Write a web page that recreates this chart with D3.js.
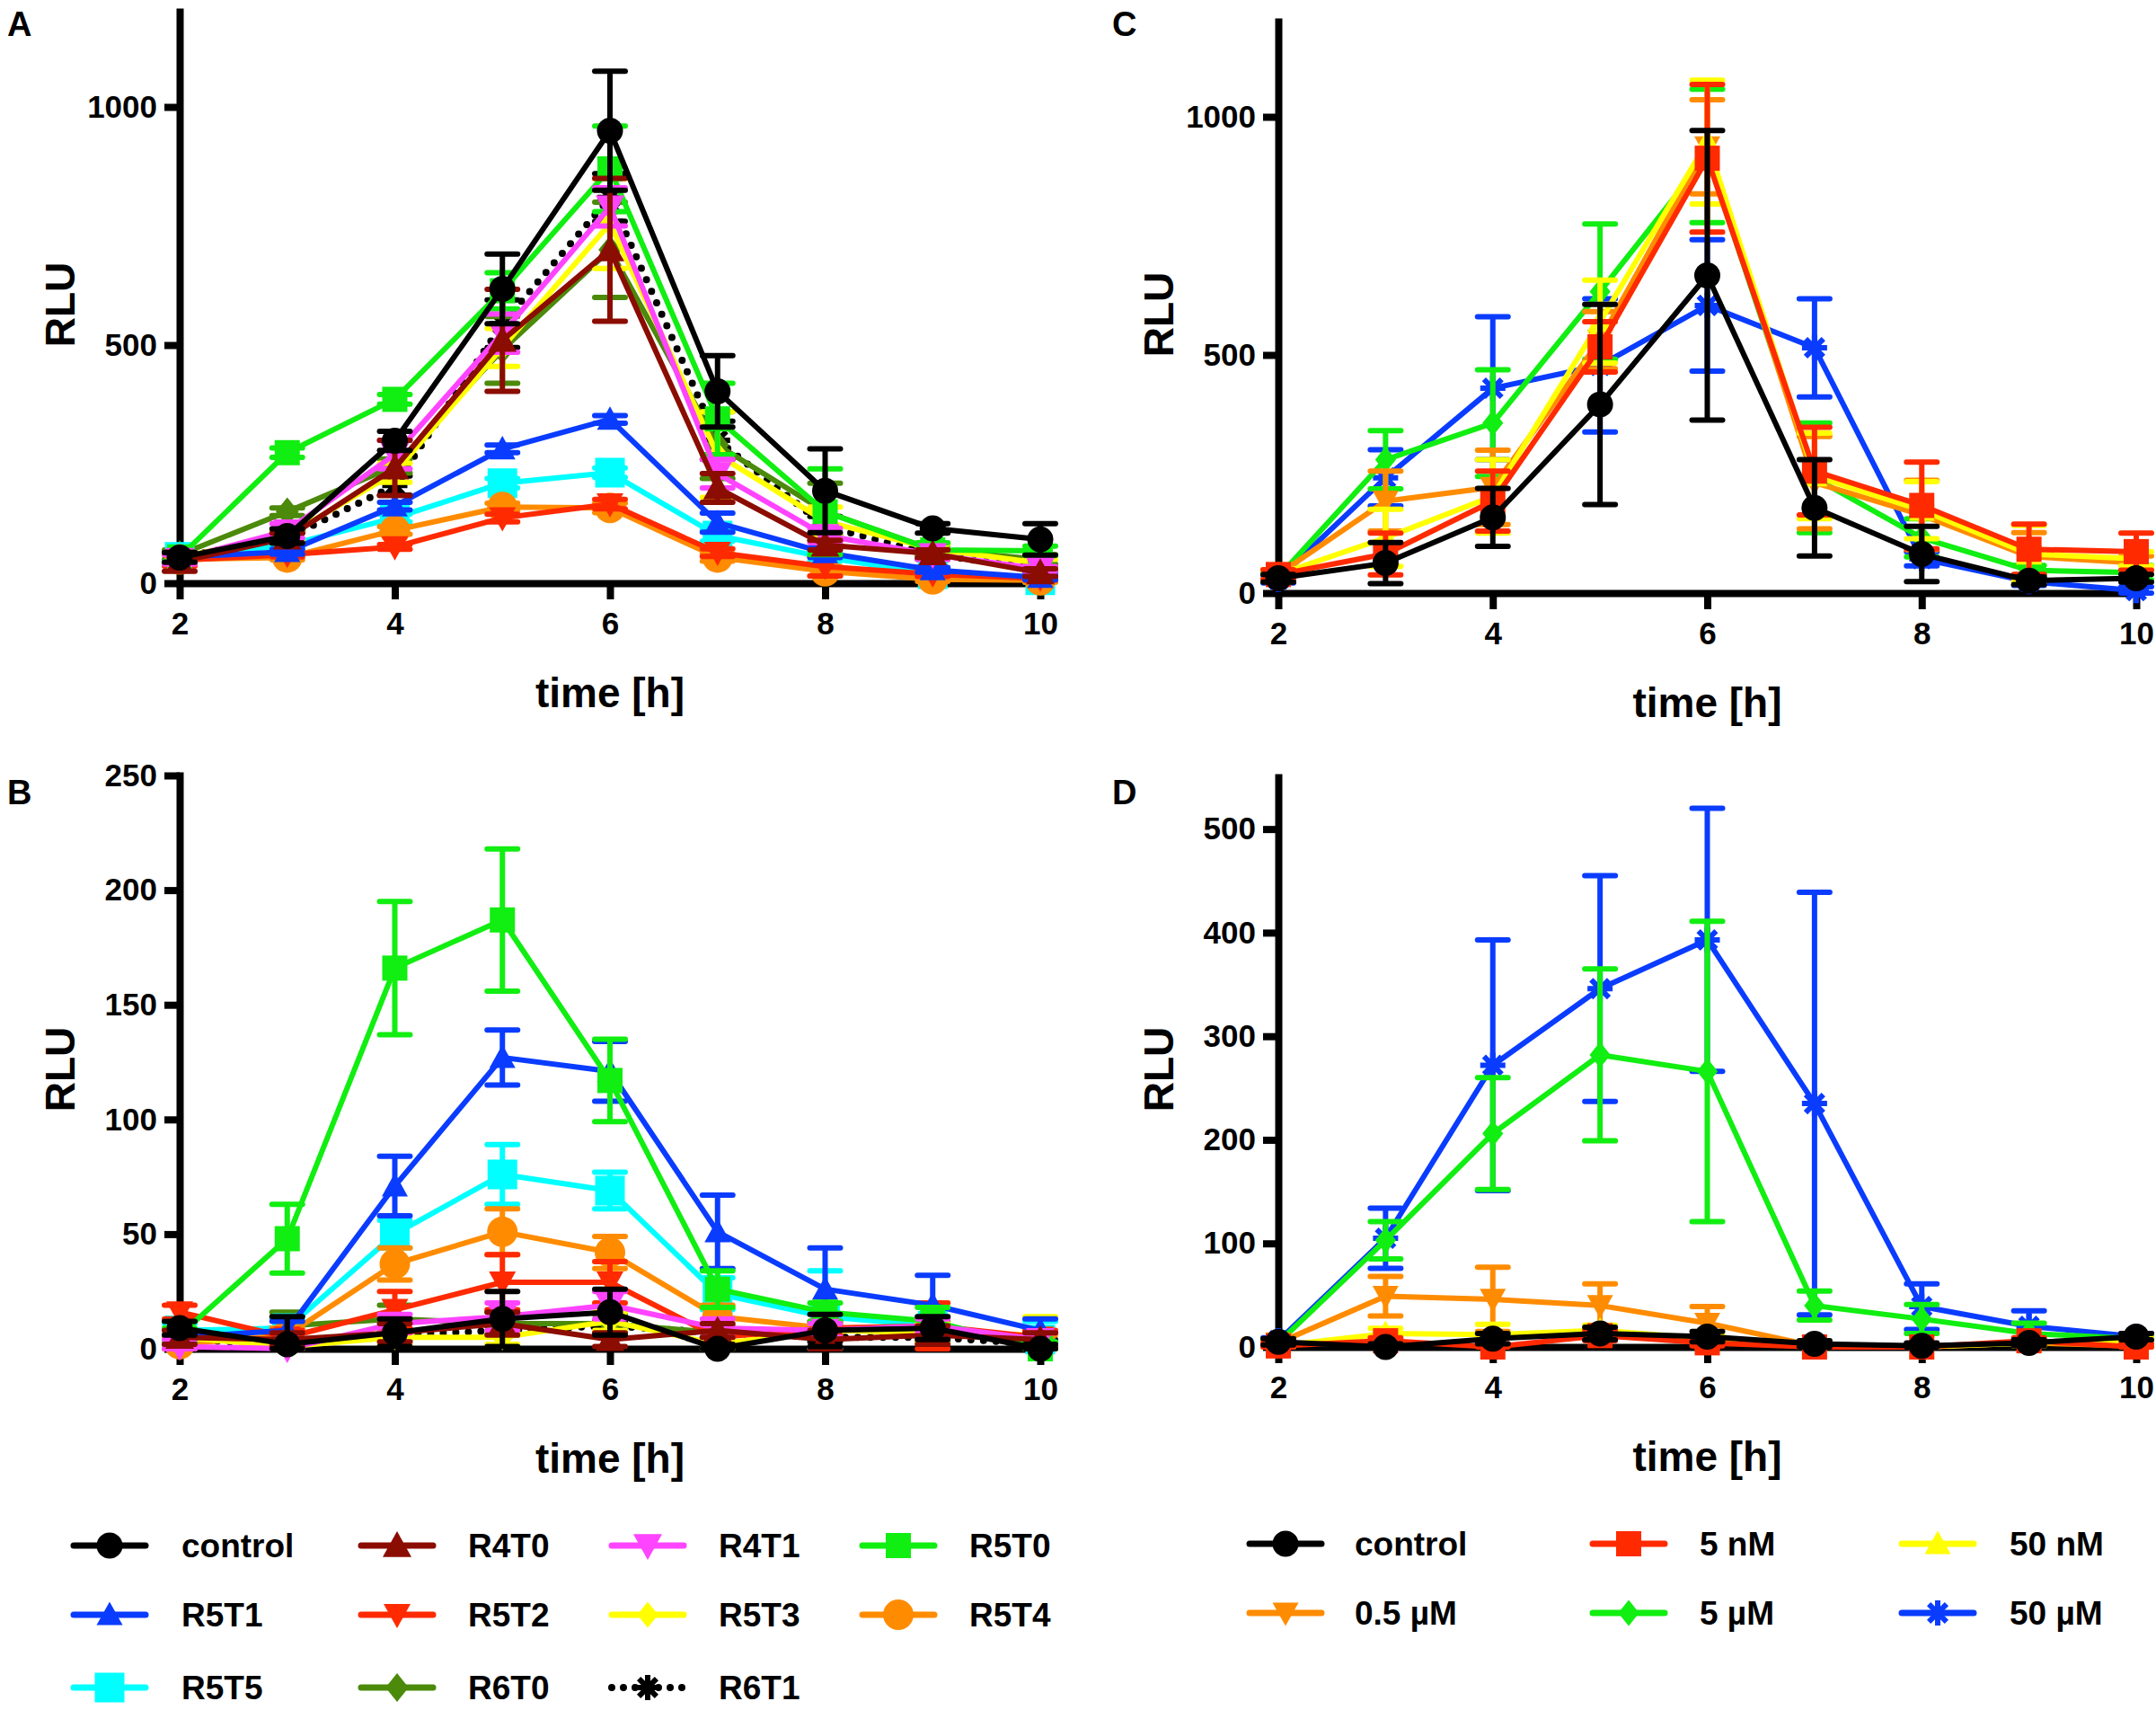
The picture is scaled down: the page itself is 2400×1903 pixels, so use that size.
<!DOCTYPE html>
<html>
<head>
<meta charset="utf-8">
<script src="https://cdnjs.cloudflare.com/ajax/libs/d3/7.8.5/d3.min.js"></script>
<style>
  body { margin: 0; background: #fff; }
  text { font-family: "Liberation Sans", Arial, sans-serif; font-weight: bold; fill: #000; }
</style>
</head>
<body>
<div id="figura"></div>
<script>
// tiempos y ticks
var horas = [2, 3, 4, 5, 6, 7, 8, 9, 10];
var ticksX = [2, 4, 6, 8, 10];
var ticksYA = [0, 500, 1000];
var ticksYB = [0, 50, 100, 150, 200, 250];
var ticksYC = [0, 500, 1000];
var ticksYD = [0, 100, 200, 300, 400, 500];

// series de A y B
var nombresAB = ["control", "R4T0", "R4T1", "R5T0", "R5T1", "R5T2", "R5T3", "R5T4", "R5T5", "R6T0", "R6T1"];
var mediasA = [
  [54, 99, 299, 618, 950, 403, 194, 115, 92],
  [45, 95, 242, 510, 700, 200, 80, 62, 22],
  [50, 110, 270, 525, 790, 230, 100, 60, 30],
  [55, 274, 386, 614, 870, 345, 150, 70, 68],
  [55, 66, 162, 282, 344, 127, 64, 28, 12],
  [48, 60, 76, 137, 166, 64, 35, 19, 10],
  [55, 100, 232, 495, 755, 270, 130, 72, 42],
  [50, 54, 111, 160, 158, 54, 25, 8, 6],
  [55, 80, 137, 210, 232, 100, 54, 19, 6],
  [60, 150, 246, 490, 700, 290, 150, 70, 50],
  [55, 95, 205, 545, 810, 300, 120, 60, 30]
];
var erroresA = [
  [10, 15, 20, 73, 125, 75, 88, 10, 33],
  [20, 10, 58, 107, 150, 30, 10, 8, 8],
  [10, 15, 30, 40, 40, 30, 15, 10, 5],
  [10, 10, 10, 38, 90, 75, 90, 15, 10],
  [10, 5, 8, 8, 8, 20, 10, 5, 5],
  [12, 5, 5, 8, 10, 8, 20, 5, 4],
  [10, 10, 20, 40, 94, 90, 30, 10, 8],
  [10, 5, 8, 8, 10, 8, 10, 4, 4],
  [10, 5, 8, 10, 10, 12, 8, 4, 4],
  [10, 8, 15, 70, 100, 70, 60, 10, 10],
  [10, 10, 20, 50, 50, 40, 20, 10, 6]
];
var mediasB = [
  [9, 2, 7, 13, 16, 0, 8, 9, 0],
  [5, 4, 7, 11, 4, 8, 4, 6, 4],
  [1, 0, 11, 14, 19, 9, 8, 10, 4],
  [6, 48, 166, 187, 117, 26, 16, 12, 0],
  [5, 8, 71, 127, 121, 51, 26, 19, 8],
  [16, 5, 17, 29, 29, 5, 9, 10, 5],
  [5, 1, 5, 5, 12, 2, 8, 7, 6],
  [2, 6, 37, 51, 42, 14, 9, 8, 3],
  [8, 9, 50, 76, 69, 24, 14, 10, 4],
  [3, 10, 13, 11, 11, 7, 8, 9, 4],
  [4, 2, 6, 8, 10, 7, 5, 5, 2]
];
var erroresB = [
  [3, 12, 6, 12, 10, 2, 7, 5, 2],
  [3, 3, 4, 5, 3, 3, 4, 4, 3],
  [3, 2, 4, 6, 6, 4, 3, 3, 3],
  [3, 15, 29, 31, 18, 8, 4, 6, 3],
  [3, 4, 13, 12, 13, 16, 18, 13, 5],
  [3, 3, 8, 12, 9, 3, 3, 10, 3],
  [3, 2, 3, 3, 4, 2, 3, 4, 8],
  [3, 3, 7, 10, 7, 5, 3, 3, 3],
  [3, 4, 6, 13, 8, 7, 20, 4, 8],
  [3, 6, 6, 5, 4, 3, 3, 3, 3],
  [2, 2, 2, 2, 2, 2, 2, 2, 2]
];

// series de C y D
var nombresCD = ["control", "5 nM", "50 nM", "0.5 µM", "5 µM", "50 µM"];
var mediasC = [
  [31, 63, 159, 396, 667, 179, 82, 26, 31],
  [39, 82, 193, 517, 913, 256, 184, 92, 87],
  [39, 116, 203, 570, 947, 246, 174, 82, 72],
  [39, 193, 222, 531, 937, 232, 164, 77, 63],
  [34, 280, 357, 633, 918, 242, 116, 48, 43],
  [29, 242, 430, 478, 604, 515, 72, 24, 5]
];
var erroresC = [
  [8, 43, 61, 210, 304, 101, 58, 8, 8],
  [10, 44, 63, 53, 155, 92, 91, 53, 39],
  [10, 60, 77, 87, 130, 90, 60, 60, 15],
  [10, 63, 78, 60, 99, 97, 73, 50, 15],
  [8, 61, 112, 142, 140, 115, 40, 10, 15],
  [8, 59, 150, 140, 138, 103, 15, 8, 8]
];
var mediasD = [
  [5, 0, 8, 13, 10, 3, 1, 4, 10],
  [1, 6, 0, 11, 4, 0, 0, 6, 0],
  [1, 13, 12, 16, 8, 0, 0, 4, 6],
  [4, 49, 46, 40, 23, 1, 0, 4, 1],
  [4, 103, 206, 282, 266, 40, 27, 13, 8],
  [6, 105, 272, 346, 393, 235, 39, 20, 10]
];
var erroresD = [
  [3, 3, 5, 6, 5, 3, 3, 3, 3],
  [3, 3, 3, 5, 3, 3, 3, 3, 3],
  [3, 5, 10, 5, 4, 3, 3, 3, 3],
  [3, 19, 31, 21, 16, 3, 3, 3, 3],
  [3, 18, 54, 83, 145, 14, 14, 10, 3],
  [3, 29, 121, 109, 127, 204, 22, 15, 3]
];

// estilos de cada serie (color, forma, tamaño en px)
var estilos = {
  "control": { color: "#000000", forma: "circulo", tam: 29 },
  "R4T0": { color: "#8b0c00", forma: "triArriba", tam: 32 },
  "R4T1": { color: "#ff44ff", forma: "triAbajo", tam: 32 },
  "R5T0": { color: "#11ee11", forma: "cuadrado", tam: 28 },
  "R5T1": { color: "#0a3cff", forma: "triArriba", tam: 29 },
  "R5T2": { color: "#ff2a00", forma: "triAbajo", tam: 30 },
  "R5T3": { color: "#ffff00", forma: "rombo", tam: 29 },
  "R5T4": { color: "#ff8c00", forma: "circulo", tam: 34 },
  "R5T5": { color: "#00ffff", forma: "cuadrado", tam: 33 },
  "R6T0": { color: "#4b8a0a", forma: "rombo", tam: 32 },
  "R6T1": { color: "#000000", forma: "estrella", tam: 28, punteado: true },
  "5 nM": { color: "#ff2a00", forma: "cuadrado", tam: 28 },
  "50 nM": { color: "#ffff00", forma: "triArriba", tam: 29 },
  "0.5 µM": { color: "#ff8c00", forma: "triAbajo", tam: 29 },
  "5 µM": { color: "#11ee11", forma: "rombo", tam: 29 },
  "50 µM": { color: "#0a3cff", forma: "estrella", tam: 28 }
};

function simbolo(forma, s) {
  var p = d3.path();
  var h = s / 2;
  if (forma == "circulo") { p.arc(0, 0, h, 0, 2 * Math.PI); p.closePath(); }
  else if (forma == "cuadrado") { p.rect(-h, -h, s, s); }
  else if (forma == "triArriba") { p.moveTo(0, -h); p.lineTo(h, h * 0.8); p.lineTo(-h, h * 0.8); p.closePath(); }
  else if (forma == "triAbajo") { p.moveTo(0, h); p.lineTo(h, -h * 0.8); p.lineTo(-h, -h * 0.8); p.closePath(); }
  else if (forma == "rombo") { p.moveTo(0, -h); p.lineTo(h * 0.8, 0); p.lineTo(0, h); p.lineTo(-h * 0.8, 0); p.closePath(); }
  else if (forma == "estrella") {
    for (var k = 0; k < 4; k++) {
      var a = k * Math.PI / 4;
      p.moveTo(-h * Math.cos(a), -h * Math.sin(a));
      p.lineTo(h * Math.cos(a), h * Math.sin(a));
    }
  }
  return p.toString();
}

function dibujaMarca(g, est) {
  var m = g.append("path").attr("d", simbolo(est.forma, est.tam));
  if (est.forma == "estrella") m.attr("fill", "none").attr("stroke", est.color).attr("stroke-width", 6);
  else m.attr("fill", est.color);
}

var svg = d3.select("#figura").append("svg")
  .attr("width", 2400).attr("height", 1903);
svg.append("rect").attr("width", 2400).attr("height", 1903).attr("fill", "#fff");

function panel(cfg) {
  var g = svg.append("g");
  var escalaX = d3.scaleLinear().domain([2, 10]).range(cfg.rx);
  var escalaY = d3.scaleLinear().domain([0, cfg.ymax]).range(cfg.ry);

  // ejes
  var ejeX = g.append("g").attr("transform", "translate(0," + cfg.ry[0] + ")")
    .call(d3.axisBottom(escalaX).tickValues(ticksX).tickSize(18).tickSizeOuter(0).tickPadding(14));
  var ejeY = g.append("g").attr("transform", "translate(" + cfg.rx[0] + ",0)")
    .call(d3.axisLeft(escalaY).tickValues(cfg.ticks).tickFormat(d3.format("d")).tickSize(17).tickSizeOuter(0).tickPadding(8));
  [ejeX, ejeY].forEach(function (e) {
    e.select(".domain").attr("stroke-width", 8).attr("stroke-linecap", "square");
    e.selectAll(".tick line").attr("stroke-width", 8);
    e.selectAll("text").style("font-size", "35px").attr("fill", "#000");
  });

  g.append("text").attr("x", (cfg.rx[0] + cfg.rx[1]) / 2).attr("y", cfg.ry[0] + 138)
    .attr("text-anchor", "middle").style("font-size", "46px").text("time [h]");
  g.append("text")
    .attr("transform", "translate(" + (cfg.rx[0] - 117) + "," + ((cfg.ry[0] + cfg.ry[1]) / 2 + 8) + ") rotate(-90)")
    .attr("text-anchor", "middle").style("font-size", "46px").text("RLU");
  g.append("text").attr("x", cfg.letraX).attr("y", cfg.letraY)
    .style("font-size", "38px").text(cfg.letra);

  // series, la primera queda encima
  var orden = d3.range(cfg.nombres.length).reverse();
  orden.forEach(function (i) {
    var est = estilos[cfg.nombres[i]];
    var puntos = horas.map(function (t, j) { return { t: t, v: cfg.medias[i][j], e: cfg.errores[i][j] }; });
    var gs = g.append("g");

    // barras de error
    puntos.forEach(function (d) {
      var yA = escalaY(d.v + d.e), yB = escalaY(Math.max(0, d.v - d.e)), x = escalaX(d.t);
      var eb = gs.append("g").attr("stroke", est.color).attr("stroke-width", 6);
      eb.append("line").attr("x1", x).attr("x2", x).attr("y1", yA).attr("y2", yB);
      eb.append("line").attr("x1", x - 17).attr("x2", x + 17).attr("y1", yA).attr("y2", yA).attr("stroke-linecap", "round");
      eb.append("line").attr("x1", x - 17).attr("x2", x + 17).attr("y1", yB).attr("y2", yB).attr("stroke-linecap", "round");
    });

    var linea = d3.line().x(function (d) { return escalaX(d.t); }).y(function (d) { return escalaY(d.v); });
    var camino = gs.append("path").datum(puntos).attr("d", linea)
      .attr("fill", "none").attr("stroke", est.color).attr("stroke-width", 6).attr("stroke-linejoin", "round");
    if (est.punteado) camino.attr("stroke-dasharray", "0,14").attr("stroke-linecap", "round").attr("stroke-width", 8);

    puntos.forEach(function (d) {
      var m = gs.append("g").attr("transform", "translate(" + escalaX(d.t) + "," + escalaY(d.v) + ")");
      dibujaMarca(m, est);
    });
  });
}

panel({ letra: "A", letraX: 8, letraY: 40, rx: [200, 1158], ry: [649, 13], ymax: 1200, ticks: ticksYA,
  nombres: nombresAB, medias: mediasA, errores: erroresA });
panel({ letra: "B", letraX: 8, letraY: 895, rx: [200, 1158], ry: [1501, 863], ymax: 250, ticks: ticksYB,
  nombres: nombresAB, medias: mediasB, errores: erroresB });
panel({ letra: "C", letraX: 1238, letraY: 40, rx: [1423, 2378], ry: [660, 24], ymax: 1200, ticks: ticksYC,
  nombres: nombresCD, medias: mediasC, errores: erroresC });
panel({ letra: "D", letraX: 1238, letraY: 895, rx: [1423, 2378], ry: [1499, 865], ymax: 550, ticks: ticksYD,
  nombres: nombresCD, medias: mediasD, errores: erroresD });

// leyendas
function leyenda(nombres, filas, colLinea, colTexto) {
  var ncol = colLinea.length;
  nombres.forEach(function (n, i) {
    var est = estilos[n];
    var y = filas[Math.floor(i / ncol)], x = colLinea[i % ncol];
    var gl = svg.append("g");
    var l = gl.append("line").attr("x1", x).attr("x2", x + 80).attr("y1", y).attr("y2", y)
      .attr("stroke", est.color).attr("stroke-width", 7).attr("stroke-linecap", "round");
    if (est.punteado) l.attr("stroke-dasharray", "0,13").attr("stroke-width", 8);
    dibujaMarca(gl.append("g").attr("transform", "translate(" + (x + 40) + "," + y + ")"), est);
    gl.append("text").attr("x", colTexto[i % ncol]).attr("y", y).attr("dy", "0.36em")
      .style("font-size", "37px").text(n);
  });
}
leyenda(nombresAB, [1720, 1797, 1878], [82, 402, 681, 960], [202, 521, 800, 1079]);
leyenda(nombresCD, [1718, 1795], [1391, 1773, 2117], [1508, 1892, 2237]);
</script>
</body>
</html>
